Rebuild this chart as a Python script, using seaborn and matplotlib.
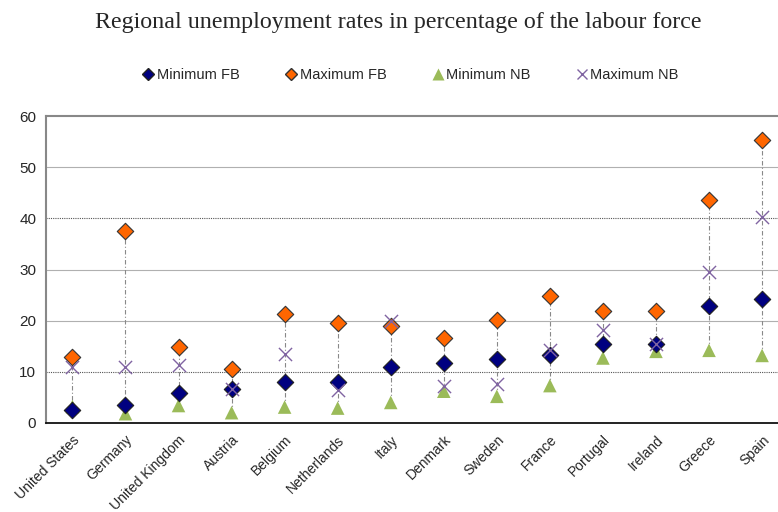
import matplotlib
matplotlib.use("Agg")
import matplotlib.pyplot as plt
from matplotlib.lines import Line2D
import numpy as np
import pandas as pd
import seaborn as sns

countries = ["United States", "Germany", "United Kingdom", "Austria", "Belgium",
             "Netherlands", "Italy", "Denmark", "Sweden", "France", "Portugal",
             "Ireland", "Greece", "Spain"]
min_fb = [2.5, 3.5, 5.9, 6.7, 8.0, 8.1, 10.9, 11.8, 12.5, 13.3, 15.4, 15.5, 22.8, 24.2]
max_fb = [12.9, 37.6, 14.9, 10.5, 21.3, 19.5, 18.9, 16.6, 20.1, 24.9, 21.8, 21.9, 43.6, 55.4]
min_nb = [3.2, 1.8, 3.4, 2.0, 3.1, 2.9, 4.0, 6.2, 5.2, 7.3, 12.7, 14.0, 14.2, 13.2]
max_nb = [10.9, 10.9, 11.4, 6.6, 13.5, 6.5, 20.0, 7.3, 7.7, 14.2, 18.1, 15.5, 29.5, 40.3]

series_names = ["Minimum FB", "Maximum FB", "Minimum NB", "Maximum NB"]
colors = {"Minimum FB": "#000080", "Maximum FB": "#FF6600",
          "Minimum NB": "#9BBB59", "Maximum NB": "#8064A2"}

df = pd.DataFrame({"country": countries, "Minimum FB": min_fb, "Maximum FB": max_fb,
                   "Minimum NB": min_nb, "Maximum NB": max_nb})
long = df.melt(id_vars="country", var_name="series", value_name="rate")
long["pos"] = long["country"].map({c: i for i, c in enumerate(countries)})

sns.set_style("white")
plt.rcParams["font.family"] = ["Liberation Sans", "DejaVu Sans"]

fig = plt.figure(figsize=(7.78, 5.12), dpi=100)
ax = fig.add_axes([0.059, 0.174, 0.941, 0.599])

# horizontal gridlines
for v, c in [(10, "#555555"), (20, "#b0b0b0"), (30, "#b0b0b0"), (40, "#555555"), (50, "#b0b0b0")]:
    ax.axhline(v, color=c, lw=0.8, ls=(0, (1, 1)) if c == "#555555" else "-", zorder=0)

# high-low lines per country
lows = df[series_names].min(axis=1)
highs = df[series_names].max(axis=1)
ax.vlines(np.arange(len(countries)), lows, highs, colors="#888888",
          linestyles=(0, (4, 2, 1, 2)), lw=0.8, zorder=1)

styles = {
    "Minimum FB": dict(marker="D", s=70, edgecolor="#222222", linewidth=0.8),
    "Minimum NB": dict(marker="^", s=95, edgecolor="none", linewidth=0),
    "Maximum NB": dict(marker="x", s=90, linewidth=1.0),
    "Maximum FB": dict(marker="D", s=70, edgecolor="#333333", linewidth=0.8),
}
for name in ["Minimum NB", "Maximum FB", "Minimum FB", "Maximum NB"]:
    sub = long[long["series"] == name]
    sns.scatterplot(data=sub, x="pos", y="rate", color=colors[name], ax=ax,
                    legend=False, zorder=3, **styles[name])

ax.set_xlim(-0.5, 13.3)
ax.set_ylim(0, 60)
ax.set_yticks(range(0, 61, 10))
ax.set_yticklabels([str(v) for v in range(0, 61, 10)], fontsize=11)
ax.set_xticks(np.arange(len(countries)))
ax.set_xticklabels(countries, rotation=45, ha="right", rotation_mode="anchor",
                   fontsize=10)
ax.set_xticks(np.arange(-0.5, 13.5, 1), minor=True)
ax.tick_params(axis="x", which="major", length=0, pad=7)
ax.tick_params(axis="x", which="minor", length=5, color="#888888", direction="out")
ax.tick_params(axis="y", length=4, color="#888888", direction="out", pad=3)
ax.set_xlabel("")
ax.set_ylabel("")

for side in ["left", "top"]:
    ax.spines[side].set_color("#888888")
    ax.spines[side].set_linewidth(1.5)
ax.spines["bottom"].set_color("#111111")
ax.spines["bottom"].set_linewidth(1.3)
ax.spines["right"].set_visible(False)

handles = [
    Line2D([], [], ls="none", marker="D", ms=6, mfc=colors["Minimum FB"], mec="#222222"),
    Line2D([], [], ls="none", marker="D", ms=6, mfc=colors["Maximum FB"], mec="#333333"),
    Line2D([], [], ls="none", marker="^", ms=8, mfc=colors["Minimum NB"], mec="none"),
    Line2D([], [], ls="none", marker="x", ms=7, mec=colors["Maximum NB"]),
]
fig.legend(handles, series_names, loc="center", bbox_to_anchor=(0.527, 0.853), ncol=4,
           frameon=False, fontsize=10.5, handletextpad=0.1, columnspacing=3.0,
           handlelength=1.0)

fig.text(0.512, 0.957, "Regional unemployment rates in percentage of the labour force",
         ha="center", va="center", fontsize=17.3, family=["Liberation Serif", "DejaVu Serif"])

fig.savefig("out.png", dpi=100)
